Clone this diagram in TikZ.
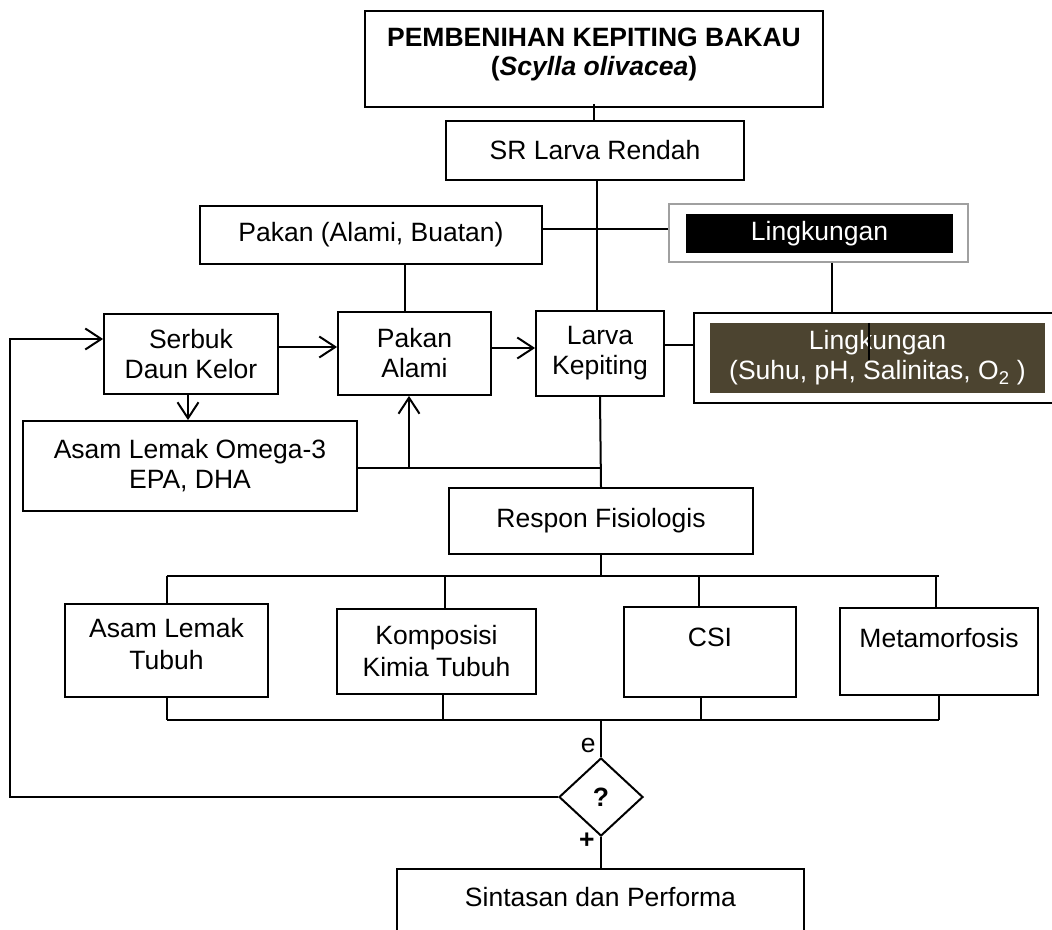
\documentclass[tikz,border=0pt]{standalone}
\usepackage{fontspec}
\setmainfont{Liberation Sans}
\usetikzlibrary{arrows.meta,shapes.geometric,calc}
\definecolor{olivebox}{HTML}{4C4430}
\definecolor{greyborder}{HTML}{A0A0A0}
\newcommand{\tbox}[4]{\parbox[c][#1][t]{#2}{\centering\vspace*{#3}#4}}
\begin{document}
\begin{tikzpicture}[x=1pt,y=-1pt,
  every node/.style={font=\fontsize{26.5}{30}\selectfont},
  box/.style={draw, line width=1.8pt, rectangle, inner sep=0pt, align=center},
  conn/.style={line width=2pt},
  arr/.style={line width=2pt, -{Straight Barb[length=16pt,width=21pt,line width=2pt]}}]
\useasboundingbox (0,0) rectangle (1052,929);
\clip (0,0) rectangle (1052,929);

% boxes
\node[box, minimum width=458pt, minimum height=96pt] (title) at (594,59)
  {\tbox{96pt}{456pt}{17pt}{\fontsize{26.5}{29}\selectfont\textbf{PEMBENIHAN KEPITING BAKAU}\\\textbf{(\textit{Scylla olivacea})}}};
\node[box, minimum width=298pt, minimum height=59pt] (sr) at (595,150.5) {SR Larva Rendah};
\node[box, minimum width=342pt, minimum height=58pt] (pakan) at (371,235) {Pakan (Alami, Buatan)};
\node[box, draw=greyborder, minimum width=299pt, minimum height=58pt] (ling1) at (818.5,233) {};
\node[fill=black, text=white, inner sep=0pt, minimum width=267pt, minimum height=39pt] (ling1in) at (819.5,233.5) {Lingkungan};
\node[box, minimum width=386pt, minimum height=90pt] (ling2) at (887,358) {};
\node[fill=olivebox, text=white, inner sep=0pt, align=center, minimum width=335pt, minimum height=70pt] (ling2in) at (877.5,358)
  {Lingkungan\\(Suhu, pH, Salinitas, O\textsubscript{2} )};
\node[box, minimum width=174pt, minimum height=80pt] (serbuk) at (191,354) {Serbuk\\Daun Kelor};
\node[box, minimum width=153pt, minimum height=83pt] (alami) at (414.5,353.5) {Pakan\\Alami};
\node[box, minimum width=128pt, minimum height=85pt] (larva) at (600,353.5) {Larva\\Kepiting};
\node[box, minimum width=334pt, minimum height=90pt] (omega) at (190,466) {Asam Lemak Omega-3\\EPA, DHA};
\node[box, minimum width=304pt, minimum height=66pt] (respon) at (601,521) {Respon Fisiologis};
\node[box] (asamt) at (166.5,650.5) {\tbox{93pt}{203pt}{14pt}{\fontsize{26.5}{32}\selectfont Asam Lemak\\Tubuh}};
\node[box] (komp) at (436.5,651.5) {\tbox{85pt}{199pt}{16pt}{\fontsize{26.5}{32}\selectfont Komposisi\\Kimia Tubuh}};
\node[box] (csi) at (710,652) {\tbox{90pt}{172pt}{21pt}{CSI}};
\node[box] (meta) at (939,651.5) {\tbox{87pt}{198pt}{20pt}{Metamorfosis}};
\node[draw, diamond, line width=2pt, inner sep=0pt, minimum width=84pt, minimum height=78pt, font=\fontsize{26.5}{30}\selectfont\bfseries] (dia) at (601,797) {?};
\node[box] (sint) at (600.5,919) {\tbox{100pt}{407pt}{18pt}{Sintasan dan Performa}};

% connectors
\draw[conn] ([yshift=4pt]title.south) -- (title.south |- sr.north);
\draw[conn] ([xshift=2pt]sr.south) -- ([xshift=2pt]sr.south |- larva.north);
\draw[conn] ([yshift=6pt]pakan.east) -- ([yshift=6pt]pakan.east -| ling1.west);
\draw[conn] ([xshift=-10pt]alami.north) -- ([xshift=-10pt]alami.north |- pakan.south);
\draw[conn] ([xshift=13.5pt]ling1.south) -- ([xshift=13.5pt]ling1.south |- ling2.north);
\draw[line width=1.4pt] ([xshift=-8.5pt]ling2in.north) -- ++(0,37);
\draw[conn] ([yshift=8.5pt]larva.east) -- ([yshift=8.5pt]larva.east -| ling2.west);
\draw[arr] ([yshift=7pt]serbuk.east) -- ([yshift=7pt]serbuk.east -| alami.west);
\draw[arr] ([yshift=5.5pt]alami.east) -- ([yshift=5.5pt]alami.east -| larva.west);
\draw[arr] ([xshift=-3pt]serbuk.south) -- ([xshift=-3pt]serbuk.south |- omega.north);
\coordinate (j1) at ([yshift=-2pt]omega.east -| larva.south);
\draw[conn] ([yshift=-2pt]omega.east) -- (j1);
\coordinate (j2) at ([xshift=-5.5pt]alami.south |- j1);
\draw[arr] (j2) -- ([xshift=-5.5pt]alami.south);
\draw[conn] (larva.south) -- (respon.north);

% top bus
\coordinate (bt) at ([yshift=-21pt]respon.south);
\draw[conn] (respon.south) -- (bt);
\draw[conn] (asamt.north |- bt) -- (meta.north |- bt);
\draw[conn] (asamt.north |- bt) -- (asamt.north);
\draw[conn] ([xshift=8.5pt]komp.north |- bt) -- ([xshift=8.5pt]komp.north);
\draw[conn] ([xshift=-11pt]csi.north |- bt) -- ([xshift=-11pt]csi.north);
\draw[conn] ([xshift=-3pt]meta.north |- bt) -- ([xshift=-3pt]meta.north);

% bottom bus
\coordinate (bb) at ([yshift=-22pt]asamt.south);
\draw[conn] (bb) -- (meta.south |- bb);
\draw[conn] (asamt.south) -- (bb);
\draw[conn] ([xshift=6.5pt]komp.south) -- ([xshift=6.5pt]komp.south |- bb);
\draw[conn] ([xshift=-9pt]csi.south) -- ([xshift=-9pt]csi.south |- bb);
\draw[conn] (meta.south) -- (meta.south |- bb);
\draw[conn] (dia.north |- bb) -- node[pos=0.68, left=1pt] {e} (dia.north);

% feedback loop
\coordinate (fb) at ([xshift=-548pt]dia.west);
\draw[arr] (dia.west) -- (fb) |- ([yshift=15pt]serbuk.west);

% to result
\draw[conn] (dia.south) -- node[pos=0.12, left=2pt, font=\fontsize{26.5}{30}\selectfont\bfseries] {+} (dia.south |- sint.north);
\end{tikzpicture}
\end{document}
